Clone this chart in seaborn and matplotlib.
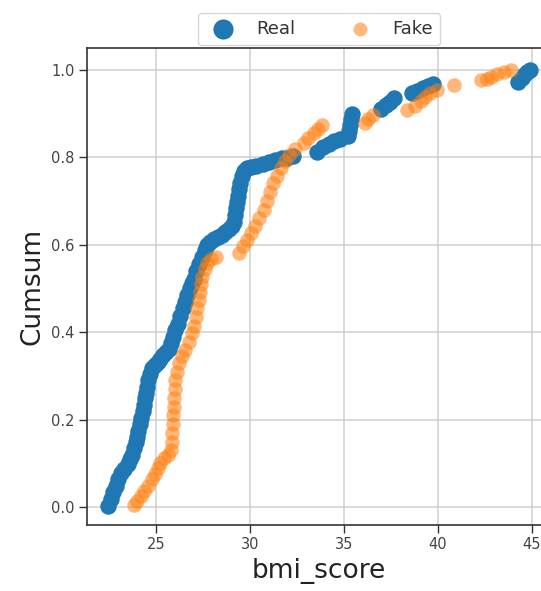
import numpy as np
import pandas as pd
import matplotlib
matplotlib.use("Agg")
import matplotlib.pyplot as plt
import seaborn as sns

# values
real_bmi = [22.45, 22.6, 22.75, 22.86, 23.0, 23.15, 23.3, 23.5, 23.65, 23.74, 23.85, 23.95,
            24.01, 24.08, 24.15, 24.22, 24.3, 24.36, 24.42, 24.48, 24.54, 24.6, 24.7, 24.81,
            24.95, 25.1, 25.25, 25.4, 25.55, 25.69, 25.8, 25.9, 26.05, 26.2, 26.31, 26.45,
            26.57, 26.67, 26.8, 26.92, 27.02, 27.15, 27.3, 27.47, 27.6, 27.75, 27.91, 28.1,
            28.3, 28.5, 28.7, 28.9, 29.05, 29.15, 29.22, 29.28, 29.33, 29.38, 29.42, 29.48,
            29.58, 29.7, 29.85, 30.05, 30.35, 30.7, 31.0, 31.35, 31.7, 32.0, 32.3, 33.55,
            33.9, 34.2, 34.5, 34.8, 35.2, 35.3, 35.35, 35.4, 35.45, 37.0, 37.25, 37.45,
            37.65, 38.6, 38.9, 39.2, 39.5, 39.75, 44.25, 44.45, 44.6, 44.75, 44.9]
real_cum = [0.003, 0.02, 0.035, 0.05, 0.065, 0.078, 0.088, 0.10, 0.11, 0.12, 0.135, 0.15,
            0.16, 0.175, 0.19, 0.205, 0.22, 0.235, 0.25, 0.262, 0.275, 0.29, 0.305, 0.318,
            0.325, 0.333, 0.34, 0.348, 0.355, 0.362, 0.375, 0.39, 0.405, 0.42, 0.437, 0.455,
            0.47, 0.485, 0.5, 0.512, 0.522, 0.54, 0.556, 0.573, 0.588, 0.6, 0.607, 0.612,
            0.618, 0.623, 0.628, 0.635, 0.643, 0.652, 0.668, 0.683, 0.697, 0.712, 0.727, 0.742,
            0.757, 0.768, 0.774, 0.777, 0.780, 0.784, 0.788, 0.793, 0.797, 0.799, 0.802, 0.812,
            0.822, 0.83, 0.836, 0.842, 0.848, 0.86, 0.873, 0.886, 0.899, 0.91, 0.918, 0.926,
            0.934, 0.946, 0.952, 0.957, 0.962, 0.966, 0.972, 0.98, 0.988, 0.995, 1.0]

fake_bmi = [23.85, 24.0, 24.2, 24.4, 24.6, 24.81, 24.95, 25.1, 25.25, 25.45, 25.65, 25.8,
            25.84, 25.87, 25.9, 25.93, 25.96, 25.99, 26.02, 26.05, 26.12, 26.23, 26.4, 26.58,
            26.75, 26.94, 27.05, 27.12, 27.2, 27.29, 27.36, 27.42, 27.47, 27.6, 27.74, 27.95,
            28.18, 29.42, 29.65, 29.86, 30.08, 30.3, 30.5, 30.74, 30.92, 31.05, 31.25, 31.46,
            31.65, 31.85, 32.1, 32.4, 32.87, 33.1, 33.4, 33.65, 33.85, 36.1, 36.3, 36.55,
            38.37, 38.8, 39.1, 39.3, 39.6, 39.97, 40.85, 42.27, 42.6, 42.8, 43.16, 43.5, 43.87]
fake_cum = [0.005, 0.015, 0.027, 0.038, 0.05, 0.064, 0.077, 0.09, 0.102, 0.112, 0.12, 0.132,
            0.15, 0.17, 0.19, 0.21, 0.23, 0.25, 0.27, 0.29, 0.31, 0.33, 0.345, 0.36,
            0.378, 0.398, 0.415, 0.435, 0.455, 0.474, 0.492, 0.51, 0.527, 0.545, 0.558, 0.567,
            0.573, 0.581, 0.596, 0.611, 0.627, 0.642, 0.66, 0.68, 0.70, 0.72, 0.74, 0.757,
            0.775, 0.79, 0.805, 0.818, 0.832, 0.843, 0.854, 0.864, 0.873, 0.878, 0.886, 0.896,
            0.908, 0.917, 0.928, 0.938, 0.946, 0.953, 0.965, 0.976, 0.979, 0.982, 0.99, 0.995, 1.0]

x_ticks = [25, 30, 35, 40, 45]
y_ticks = [0.0, 0.2, 0.4, 0.6, 0.8, 1.0]

real = pd.DataFrame({"bmi_score": real_bmi, "Cumsum": real_cum})
fake = pd.DataFrame({"bmi_score": fake_bmi, "Cumsum": fake_cum})

fig = plt.figure(figsize=(5.41, 5.91), dpi=100)
ax = fig.add_axes([0.161, 0.1117, 0.858, 0.807])

sns.scatterplot(data=real, x="bmi_score", y="Cumsum", ax=ax, color="#1f77b4",
                s=140, linewidth=0, label="Real", zorder=3)
sns.scatterplot(data=fake, x="bmi_score", y="Cumsum", ax=ax, color="#ff7f0e",
                s=110, linewidth=0, alpha=0.55, label="Fake", zorder=4)

ax.set_xlim(21.35, 46.03)
ax.set_ylim(-0.04, 1.049)
ax.set_xticks(x_ticks)
ax.set_yticks(y_ticks)
ax.set_yticklabels([f"{t:.1f}" for t in y_ticks])
ax.grid(True, color="#d0d0d0", linewidth=1.1)
ax.set_axisbelow(True)
for sp in ax.spines.values():
    sp.set_color("#333333")
    sp.set_linewidth(1.2)
ax.tick_params(labelsize=10.5, labelcolor="#444444", length=6, width=1, color="#333333", pad=3)
ax.set_xlabel("bmi_score", fontsize=19, color="#222222")
ax.set_ylabel("Cumsum", fontsize=19, color="#222222")

leg = ax.legend(loc="lower center", bbox_to_anchor=(0.5, 1.0), ncol=2, fontsize=13,
                columnspacing=2.6, borderaxespad=0.15, frameon=True, labelcolor="#333333")
leg.legend_handles[0].set_sizes([210])
leg.legend_handles[1].set_sizes([100])

fig.savefig("out.png", dpi=100)
